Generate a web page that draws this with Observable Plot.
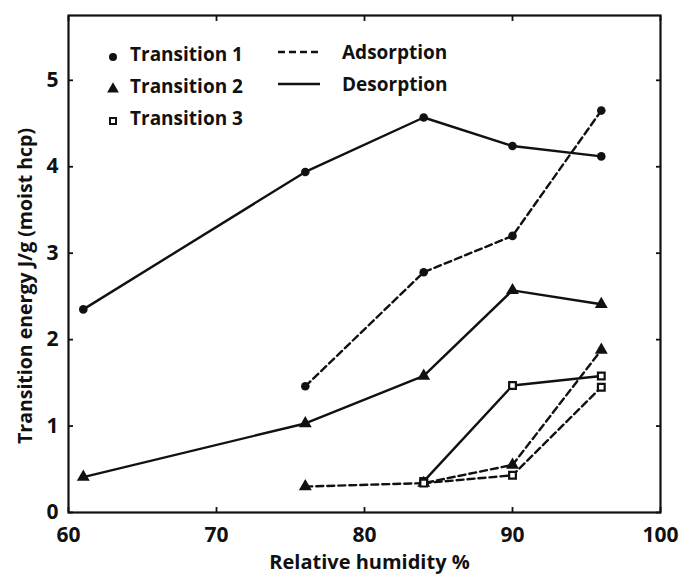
<!DOCTYPE html>
<html><head><meta charset="utf-8">
<script src="https://cdn.jsdelivr.net/npm/d3@7"></script>
<script src="https://cdn.jsdelivr.net/npm/@observablehq/plot@0.6"></script>
<style>body{margin:0;background:#fff}</style>
</head><body><div id="chart"></div>
<script>
// Data
const t1DesRH = [61, 76, 84, 90, 96];
const t1DesE  = [2.35, 3.94, 4.57, 4.24, 4.12];
const t1AdsRH = [76, 84, 90, 96];
const t1AdsE  = [1.46, 2.78, 3.20, 4.65];
const t2DesRH = [61, 76, 84, 90, 96];
const t2DesE  = [0.41, 1.03, 1.58, 2.57, 2.41];
const t2AdsRH = [76, 84, 90, 96];
const t2AdsE  = [0.30, 0.34, 0.55, 1.88];
const t3DesRH = [84, 90, 96];
const t3DesE  = [0.36, 1.47, 1.58];
const t3AdsRH = [84, 90, 96];
const t3AdsE  = [0.34, 0.43, 1.45];

const xTicks = [60, 70, 80, 90, 100];
const yTicks = [0, 1, 2, 3, 4, 5];
const transitions = ["Transition 1", "Transition 2", "Transition 3"];
const modes = ["Adsorption", "Desorption"];
const xLabel = "Relative humidity %";
const yLabel = "Transition energy J/g (moist hcp)";

function rows(t, mode, rh, e) { return rh.map((h, i) => ({transition: t, mode, rh: h, e: e[i]})); }
const data = [
  ...rows("Transition 1", "Desorption", t1DesRH, t1DesE),
  ...rows("Transition 1", "Adsorption", t1AdsRH, t1AdsE),
  ...rows("Transition 2", "Desorption", t2DesRH, t2DesE),
  ...rows("Transition 2", "Adsorption", t2AdsRH, t2AdsE),
  ...rows("Transition 3", "Desorption", t3DesRH, t3DesE),
  ...rows("Transition 3", "Adsorption", t3AdsRH, t3AdsE)
];
const des = data.filter(d => d.mode === "Desorption");
const ads = data.filter(d => d.mode === "Adsorption");

const font = "'Open Sans', sans-serif";
const ink = "#111";

const svg = Plot.plot({
  width: 681, height: 574,
  marginLeft: 68, marginRight: 21, marginTop: 15, marginBottom: 62,
  style: {fontFamily: font, fontWeight: 700, color: ink, background: "#fff"},
  x: {domain: [60, 100], label: null},
  y: {domain: [0, 5.75], label: null},
  marks: [
    Plot.frame({stroke: ink, strokeWidth: 2.2}),
    // inward ticks on all four sides
    Plot.axisX(xTicks, {anchor: "bottom", tickSize: 5, dy: -5, tickFormat: () => "", label: null, strokeWidth: 1.8}),
    Plot.axisX(xTicks, {anchor: "top", tickSize: 5, dy: 5, tickFormat: () => "", label: null, strokeWidth: 1.8}),
    Plot.axisY(yTicks, {anchor: "left", tickSize: 5, dx: 5, tickFormat: () => "", label: null, strokeWidth: 1.8}),
    Plot.axisY(yTicks, {anchor: "right", tickSize: 5, dx: -5, tickFormat: () => "", label: null, strokeWidth: 1.8}),
    // tick labels
    Plot.axisX(xTicks, {anchor: "bottom", tickSize: 0, tickPadding: 15, fontSize: 21, tickFormat: d3.format("d"), label: null}),
    Plot.axisY(yTicks, {anchor: "left", tickSize: 0, tickPadding: 10, fontSize: 21, tickFormat: d3.format("d"), label: null}),
    // axis titles
    Plot.text([xLabel], {text: d => d, frameAnchor: "bottom", textAnchor: "middle", dx: 5, dy: 56, fontSize: 20, fontWeight: 700}),
    Plot.text([yLabel], {text: d => d, frameAnchor: "left", textAnchor: "middle", rotate: -90, dx: -43, dy: 22, fontSize: 19.5, fontWeight: 700}),
    // series
    Plot.line(des, {x: "rh", y: "e", z: "transition", stroke: ink, strokeWidth: 2.4}),
    Plot.line(ads, {x: "rh", y: "e", z: "transition", stroke: ink, strokeWidth: 2.4, strokeDasharray: "7,4"}),
    Plot.dot(data.filter(d => d.transition === "Transition 1"), {x: "rh", y: "e", r: 4.3, fill: ink, symbol: "circle"}),
    Plot.dot(data.filter(d => d.transition === "Transition 2"), {x: "rh", y: "e", r: 4.8, fill: ink, symbol: "triangle"}),
    Plot.dot(data.filter(d => d.transition === "Transition 3"), {x: "rh", y: "e", r: 3.8, fill: "#fff", stroke: ink, strokeWidth: 2.2, symbol: "square"})
  ]
});

// legend (inside the frame)
const g = d3.select(svg).append("g").attr("font-family", font).attr("font-weight", 700)
  .attr("font-size", 19).attr("fill", ink).attr("text-anchor", "start");
const symbols = [d3.symbolCircle, d3.symbolTriangle, d3.symbolSquare];
const sizes = [50, 60, 36];
transitions.forEach((t, i) => {
  const y = 54 + i * 32;
  g.append("path").attr("d", d3.symbol(symbols[i], sizes[i])())
    .attr("transform", `translate(113,${y + 3})`)
    .attr("fill", i === 2 ? "#fff" : ink).attr("stroke", i === 2 ? ink : "none").attr("stroke-width", 2);
  g.append("text").attr("x", 130).attr("y", y).attr("dy", "0.35em").text(t);
});
modes.forEach((m, i) => {
  const y = 52 + i * 32;
  g.append("line").attr("x1", 278).attr("x2", 320).attr("y1", y).attr("y2", y)
    .attr("stroke", ink).attr("stroke-width", 2.4).attr("stroke-dasharray", i === 0 ? "7,4" : null);
  g.append("text").attr("x", 342).attr("y", y).attr("dy", "0.35em").text(m);
});

document.getElementById("chart").appendChild(svg);
</script>
</body></html>
